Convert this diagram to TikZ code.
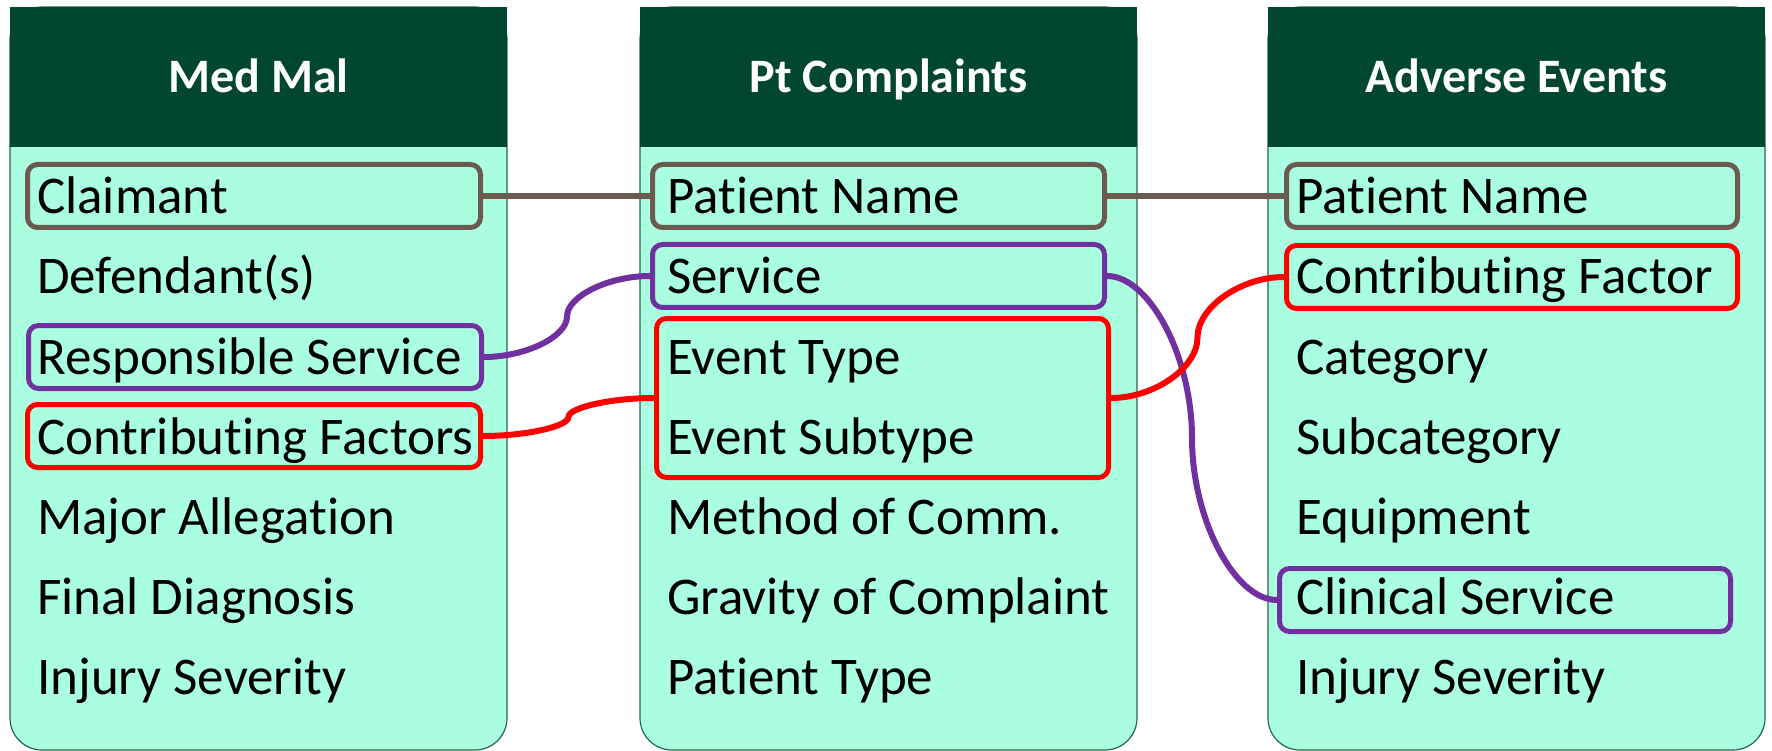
\documentclass[tikz,border=0pt]{standalone}
\usepackage{fontspec}
\setmainfont[RawFeature={-liga;-clig;-calt;-dlig}]{Carlito}
\usetikzlibrary{calc}

\definecolor{hdr}{HTML}{00472D}
\definecolor{mint}{HTML}{A9FFDF}
\definecolor{colline}{HTML}{22684A}
\definecolor{linkgray}{HTML}{6B5A50}
\definecolor{linkpurple}{HTML}{7030A0}
\definecolor{linkred}{HTML}{FF0000}

% S-shaped elbow curve between two anchors (horizontal at both ends,
% vertical at the midpoint)
\newcommand\curvelink[4]{%
  \coordinate (#4m) at ($(#2)!.5!(#3)$);
  \coordinate (#4a) at ($(#2)!.25!(#3)$);
  \coordinate (#4b) at ($(#2)!.75!(#3)$);
  \draw[linkline, draw=#1] (#2) .. controls (#4a |- #2) and (#4m |- #4a) .. (#4m)
                      .. controls (#4m |- #4b) and (#4b |- #3) .. (#3);
}

\begin{document}
\begin{tikzpicture}[x=1pt,y=-1pt,
  item/.style={anchor=base west, inner sep=0pt, font=\fontsize{53}{60}\selectfont},
  head/.style={anchor=base, inner sep=0pt, text=white, font=\fontsize{48}{56}\selectfont\bfseries},
  hl/.style={rectangle, draw=#1, line width=5pt, rounded corners=10pt,
             minimum height=63pt, inner sep=0pt},
  linkline/.style={line width=6pt},
]
\useasboundingbox (0,0) rectangle (1772,751);
\fill[white] (0,0) rectangle (1772,751);

% three table columns with dark header bands
\foreach \cx in {10,640,1268}{
  \draw[colline, line width=1.2pt, fill=mint, rounded corners=32pt] (\cx,7) rectangle ++(497,743);
  \fill[hdr] (\cx,7) rectangle ++(497,140);
}

\node[head] (h1) at (258.5,93) {Med Mal};
\node[head] (h2) at (888.5,93) {Pt Complaints};
\node[head] (h3) at (1516.5,93) {Adverse Events};

% highlighted fields
\node[hl=linkgray,   minimum width=453pt] (bcl) at (254,196) {};
\node[hl=linkpurple, minimum width=453pt] (brs) at (255,357) {};
\node[hl=linkred,    minimum width=453pt] (bcf) at (254,436) {};

\node[hl=linkgray,   minimum width=452pt] (bp2) at (878.5,196) {};
\node[hl=linkpurple, minimum width=452pt] (bsv) at (878.5,276) {};
\node[hl=linkred,    minimum width=452pt, minimum height=159pt] (bev) at (882.5,398) {};

\node[hl=linkgray,   minimum width=451pt] (bp3) at (1512,196) {};
\node[hl=linkred,    minimum width=451pt] (bcf3) at (1512,277) {};
\node[hl=linkpurple, minimum width=451pt] (bcs) at (1505,600) {};

% links between matching fields
\draw[linkline, draw=linkgray] (bcl.east) -- (bp2.west);
\draw[linkline, draw=linkgray] (bp2.east) -- (bp3.west);
\curvelink{linkpurple}{brs.east}{bsv.west}{pa}
\curvelink{linkred}{bcf.east}{bev.west}{ra}
\curvelink{linkpurple}{bsv.east}{bcs.west}{pb}
\curvelink{linkred}{bev.east}{bcf3.west}{rb}

% field names
\foreach \t [count=\i] in {Claimant,Defendant(s),Responsible Service,Contributing Factors,Major Allegation,Final Diagnosis,Injury Severity}
  \node[item] (a\i) at (37,134+80*\i) {\t};
\foreach \t [count=\i] in {Patient Name,Service,Event Type,Event Subtype,Method of Comm.,Gravity of Complaint,Patient Type}
  \node[item] (b\i) at (667,134+80*\i) {\t};
\foreach \t [count=\i] in {Patient Name,Contributing Factor,Category,Subcategory,Equipment,Clinical Service,Injury Severity}
  \node[item] (c\i) at (1296,134+80*\i) {\t};
\end{tikzpicture}
\end{document}
